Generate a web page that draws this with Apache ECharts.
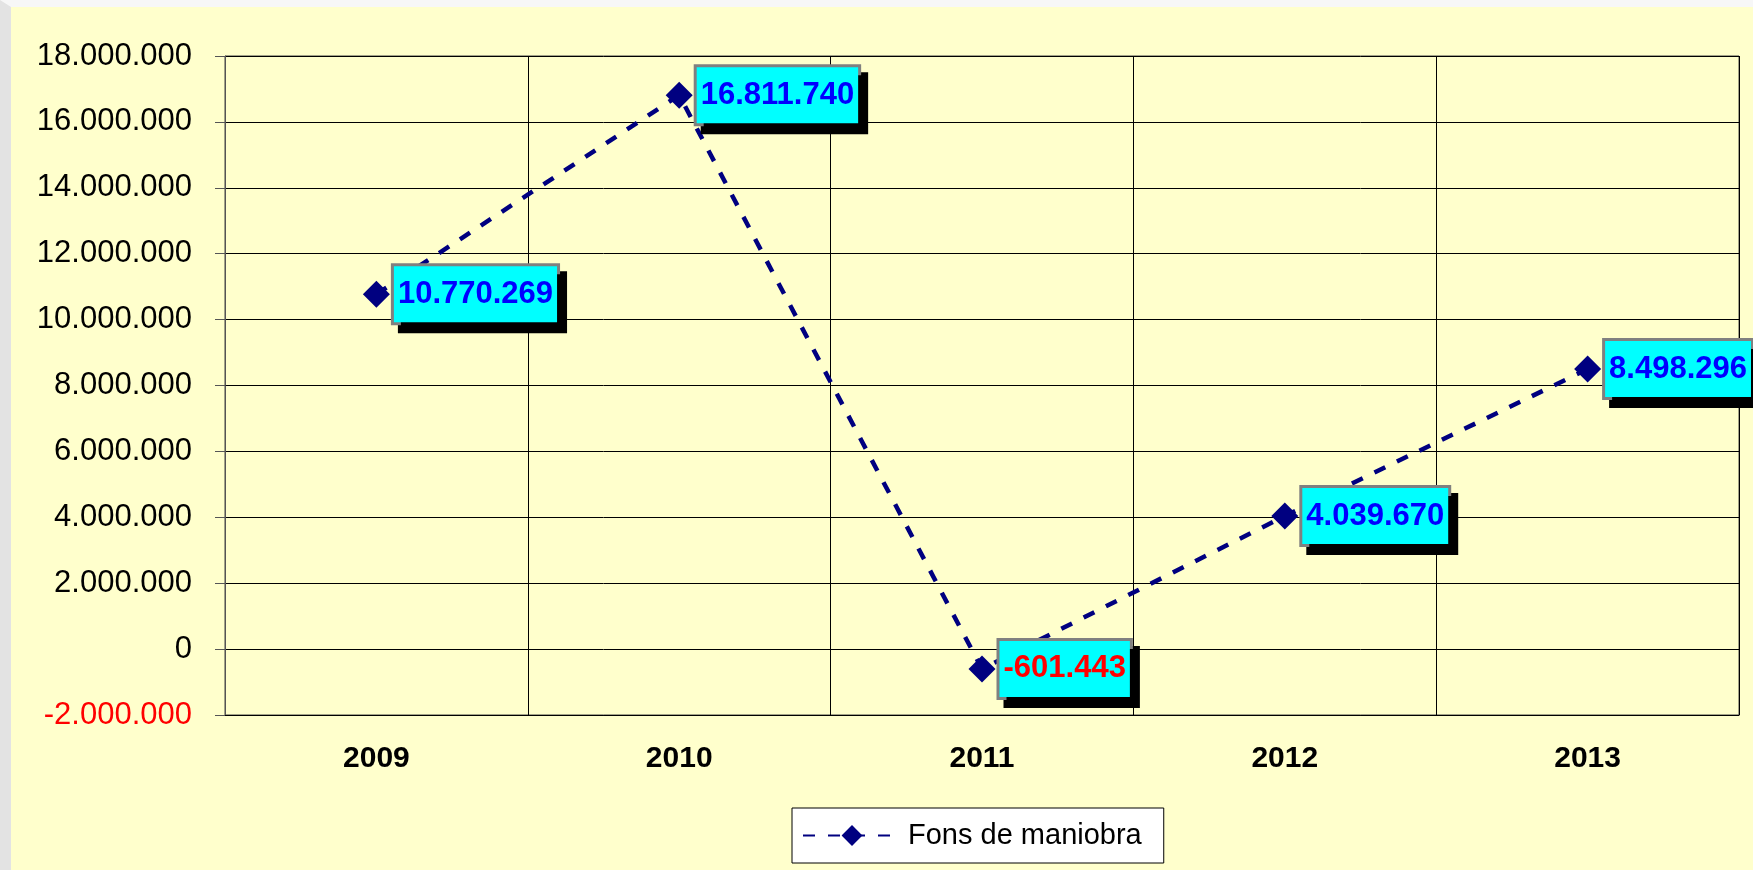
<!DOCTYPE html>
<html>
<head>
<meta charset="utf-8">
<script src="https://cdn.jsdelivr.net/npm/echarts@6/dist/echarts.min.js"></script>
<style>
  html, body { margin: 0; padding: 0; }
  body { width: 1753px; height: 870px; overflow: hidden; background: #f7f7f7; }
  #frame {
    position: absolute; left: 0; top: 0;
    width: 1742px; height: 863px;
    border-top: 7px solid #f7f7f7;
    border-left: 11px solid #e3e3e3;
    background: #ffffcc;
  }
  #chart { width: 1742px; height: 863px; }
</style>
</head>
<body>
<div id="frame"><div id="chart"></div></div>
<script>
const years = ['2009', '2010', '2011', '2012', '2013'];
const fonsManiobra = [10770269, 16811740, -601443, 4039670, 8498296];
const seriesName = 'Fons de maniobra';

const FONT = 'Arial, "Liberation Sans", sans-serif';

function fmt(v) {
  const s = Math.abs(v).toString().replace(/\B(?=(\d{3})+(?!\d))/g, '.');
  return (v < 0 ? '-' : '') + s;
}

const points = fonsManiobra.map(function (v) {
  return {
    value: v,
    label: { color: v < 0 ? '#ff0000' : '#0000ff' }
  };
});

const chart = echarts.init(document.getElementById('chart'));
chart.setOption({
  animation: false,
  textStyle: { fontFamily: FONT },
  grid: {
    left: 214, right: 14, top: 49, bottom: 155,
    show: true, borderColor: '#444', borderWidth: 1
  },
  legend: {
    data: [seriesName],
    left: 781, top: 801,
    backgroundColor: '#ffffff',
    borderColor: '#000000',
    borderWidth: 1,
    padding: [13, 22, 13, 10],
    itemWidth: 98,
    itemHeight: 26,
    itemGap: 0,
    textStyle: { fontSize: 29, color: '#000', fontFamily: FONT, padding: [0, 0, 0, 2] }
  },
  xAxis: {
    type: 'category',
    data: years,
    boundaryGap: true,
    axisLine: { show: true, onZero: false, lineStyle: { color: '#000', width: 1 } },
    axisTick: { show: false },
    axisLabel: { fontSize: 30, fontWeight: 'bold', color: '#000', margin: 29 },
    splitLine: { show: true, interval: 0, lineStyle: { color: '#000', width: 1 } }
  },
  yAxis: {
    type: 'value',
    min: -2000000,
    max: 18000000,
    interval: 2000000,
    axisLine: { show: true, lineStyle: { color: '#555', width: 1 } },
    axisTick: { show: true, inside: false, length: 10, lineStyle: { color: '#555' } },
    axisLabel: {
      fontSize: 31,
      margin: 33,
      formatter: fmt,
      color: function (v) { return Number(v) < 0 ? '#ff0000' : '#000000'; }
    },
    splitLine: { show: true, lineStyle: { color: '#000', width: 1 } }
  },
  series: [{
    name: seriesName,
    type: 'line',
    data: points,
    symbol: 'diamond',
    symbolSize: 27,
    itemStyle: { color: '#000080' },
    lineStyle: { color: '#000080', width: 4.5, type: [12, 13] },
    label: {
      show: true,
      position: 'right',
      distance: 4,
      fontSize: 31,
      fontWeight: 'bold',
      fontFamily: FONT,
      lineHeight: 36,
      formatter: function (p) { return fmt(p.value); },
      backgroundColor: '#00ffff',
      borderColor: '#808080',
      borderWidth: 3,
      padding: [10, 4, 10, 4],
      shadowColor: '#000000',
      shadowOffsetX: 7,
      shadowOffsetY: 8,
      shadowBlur: 0
    },
    z: 5
  }]
});
</script>
</body>
</html>
